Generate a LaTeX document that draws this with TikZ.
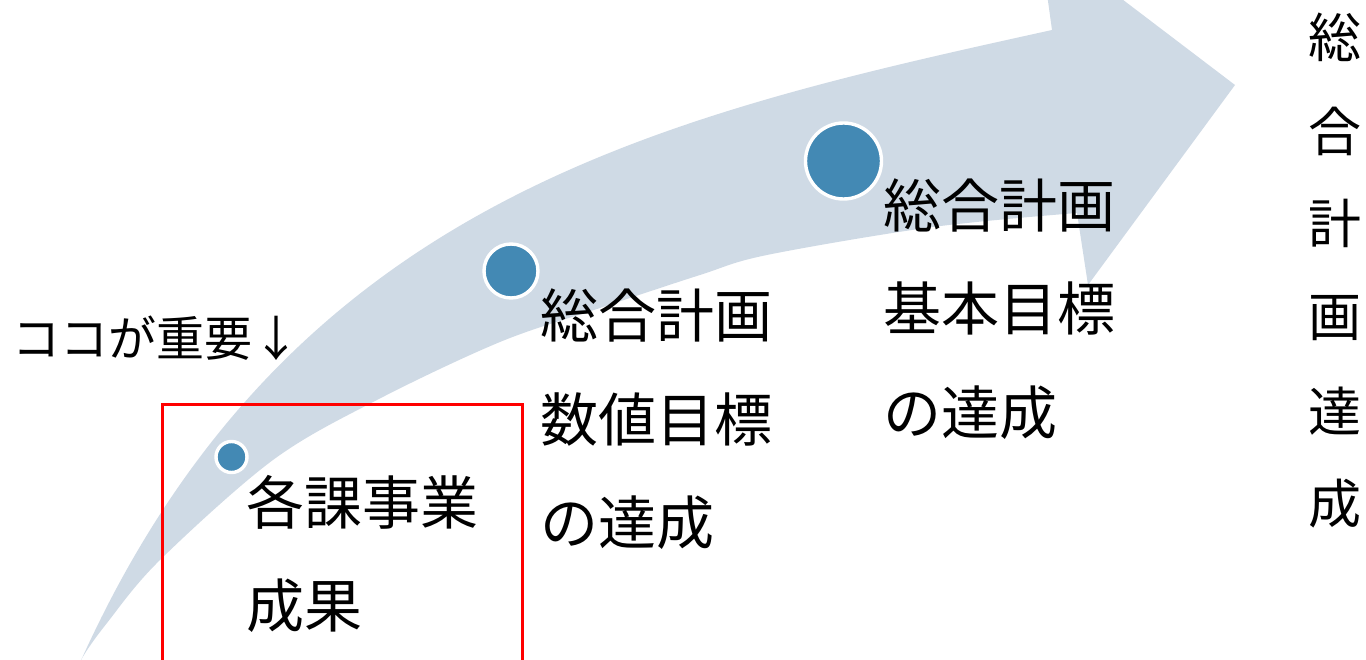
\documentclass[tikz,border=0pt]{standalone}
\usepackage{fontspec}
\newfontfamily\jp{Noto Sans CJK JP}
\definecolor{flowgrey}{HTML}{CFDAE5}
\definecolor{dotblue}{HTML}{4389B4}
\definecolor{boxred}{HTML}{FF0000}
\tikzset{
  flow/.style={fill=flowgrey, draw=none},
  dot/.style={circle, fill=dotblue, draw=white, line width=3.4pt, inner sep=0pt},
  lbl/.style={font=\jp\fontsize{58}{58}\selectfont, inner sep=0pt, anchor=base west},
  vlbl/.style={font=\jp\fontsize{53}{53}\selectfont, inner sep=0pt, anchor=base},
  note/.style={font=\jp\fontsize{48}{48}\selectfont, inner sep=0pt, anchor=base west},
  redbox/.style={draw=boxred, line width=3.4pt, inner sep=0pt, anchor=north west}
}
\begin{document}
\begin{tikzpicture}[x=1pt,y=-1pt]
\useasboundingbox (0,0) rectangle (1366,660);
% big curved arrow
\fill[flow]
  (66,695) .. controls (271,203) and (652,118) .. (1052,30)
  -- (1039,-64) -- (1235,85) -- (1088,285)
  -- plot[smooth, tension=0.55] coordinates {(1077,213) (933,227) (767,255) (700,275) (600,308) (500,342) (377,400) (273,460) (160,560) (107,623) (81,660) (66,695)}
  -- cycle;
% red box
\node[redbox, minimum width=360pt, minimum height=300pt] (box) at (161,403) {};
% dots
\node[dot, minimum size=31pt] (d1) at (231.5,457) {};
\node[dot, minimum size=54pt] (d2) at (511,271) {};
\node[dot, minimum size=76pt] (d3) at (843.5,161) {};
% note
\node[note] (n0) at (12,356) {ココが重要↓};
% block A
\node[lbl] (a1) at (246,524) {各課事業};
\node[lbl] (a2) at (246,627) {成果};
% block B
\node[lbl] (b1) at (540,338) {総合計画};
\node[lbl] (b2) at (540,441) {数値目標};
\node[lbl] (b3) at (540,544) {の達成};
% block C
\node[lbl] (c1) at (883,228) {総合計画};
\node[lbl] (c2) at (883,331) {基本目標};
\node[lbl] (c3) at (883,434) {の達成};
% vertical column
\node[vlbl] (v1) at (1335,58) {総};
\node[vlbl] (v2) at (1335,152) {合};
\node[vlbl] (v3) at (1335,244) {計};
\node[vlbl] (v4) at (1335,337) {画};
\node[vlbl] (v5) at (1335,431) {達};
\node[vlbl] (v6) at (1335,523) {成};
\end{tikzpicture}
\end{document}
